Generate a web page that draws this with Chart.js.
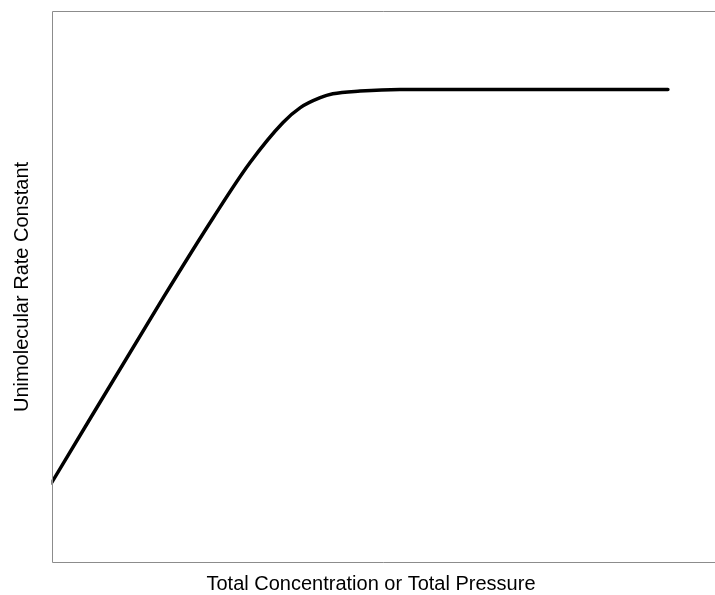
<!DOCTYPE html>
<html>
<head>
<meta charset="utf-8">
<script src="https://cdn.jsdelivr.net/npm/chart.js@4"></script>
<style>
  html, body { margin: 0; padding: 0; background: #fff; }
  #wrap { width: 715px; height: 595px; position: relative; }
</style>
</head>
<body>
<div id="wrap"><canvas id="rateChart"></canvas></div>
<script>
// curve (arbitrary units, 0-100 on both axes)
const pressure = [0, 16.96, 24.4, 29.9, 34.9, 37.5, 40.5, 42.4, 46.5, 52.5, 70.0, 92.9];
const rateConstant = [14.5, 48.3, 62.6, 72.5, 79.8, 82.5, 84.3, 85.0, 85.5, 85.8, 85.8, 85.8];

const xTitle = 'Total Concentration or Total Pressure';
const yTitle = 'Unimolecular Rate Constant';

// frame round the plot area (its right side runs off the picture)
const framePlugin = {
    id: 'frame',
    afterDraw(chart) {
        const a = chart.chartArea;
        const c = chart.ctx;
        const l = Math.round(a.left) + 0.5;
        const t = Math.round(a.top) + 0.5;
        const b = Math.round(a.bottom) - 0.5;
        c.save();
        c.strokeStyle = '#8c8c8c';
        c.lineWidth = 1;
        c.beginPath();
        c.moveTo(chart.width, t);
        c.lineTo(l, t);
        c.lineTo(l, b);
        c.lineTo(chart.width, b);
        c.stroke();
        c.restore();
    }
};

new Chart(document.getElementById('rateChart'), {
    type: 'line',
    data: {
        datasets: [{
            data: pressure.map((x, i) => ({ x: x, y: rateConstant[i] })),
            borderColor: '#000000',
            borderWidth: 3.5,
            borderCapStyle: 'round',
            pointRadius: 0,
            fill: false,
            cubicInterpolationMode: 'monotone'
        }]
    },
    options: {
        responsive: true,
        maintainAspectRatio: false,
        animation: false,
        // negative right padding pulls the bottom title left of the plot centre
        layout: { padding: { top: 11, right: -27, left: 0, bottom: 0 } },
        plugins: {
            legend: { display: false },
            tooltip: { enabled: false },
            title: {
                display: true,
                position: 'bottom',
                text: xTitle,
                color: '#000000',
                font: { family: 'Liberation Sans', size: 20, weight: 'normal', lineHeight: 1.1 },
                padding: { top: 10, bottom: 0 }
            }
        },
        scales: {
            x: {
                type: 'linear',
                min: 0,
                max: 100,
                grid: { display: false, drawTicks: false },
                border: { display: false },
                ticks: { display: false }
            },
            y: {
                min: 0,
                max: 100,
                grid: { display: false, drawTicks: false },
                border: { display: false },
                ticks: { display: false },
                title: {
                    display: true,
                    text: yTitle,
                    color: '#000000',
                    font: { family: 'Liberation Sans', size: 20, lineHeight: 1.1 },
                    padding: { top: 11, bottom: 18.5 }
                }
            }
        }
    },
    plugins: [framePlugin]
});
</script>
</body>
</html>
